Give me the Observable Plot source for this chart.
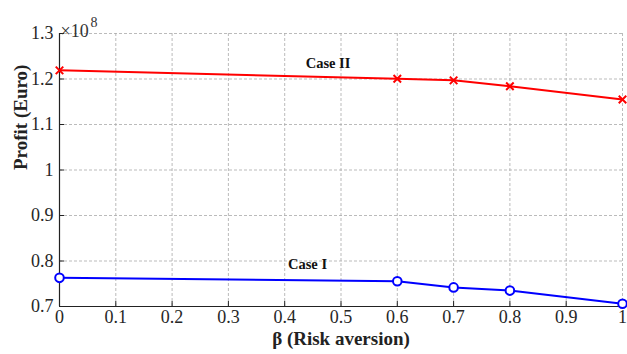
<!DOCTYPE html>
<html>
<head>
<meta charset="utf-8">
<script src="https://cdn.jsdelivr.net/npm/d3@7"></script>
<script src="https://cdn.jsdelivr.net/npm/@observablehq/plot@0.6"></script>
<style>
  html, body { margin: 0; padding: 0; background: #fff; }
  #chart svg { display: block; }
</style>
</head>
<body>
<div id="chart"></div>
<script>
const beta = [0, 0.6, 0.7, 0.8, 1.0];
const caseII = [1.219, 1.2005, 1.197, 1.184, 1.155];
const caseI = [0.763, 0.7555, 0.742, 0.735, 0.706];
const xTicks = [0, 0.1, 0.2, 0.3, 0.4, 0.5, 0.6, 0.7, 0.8, 0.9, 1];
const yTicks = [0.7, 0.8, 0.9, 1.0, 1.1, 1.2, 1.3];
const labels = [
  {x: 0.477, y: 1.235, text: "Case II"},
  {x: 0.4405, y: 0.7925, text: "Case I"}
];

const red = beta.map((b, i) => ({x: b, y: caseII[i]}));
const blue = beta.map((b, i) => ({x: b, y: caseI[i]}));

const font = "Liberation Serif";
const fmt = d => String(+d.toFixed(1));

const chart = Plot.plot({
  width: 627,
  height: 354,
  marginLeft: 59,
  marginRight: 5,
  marginTop: 33,
  marginBottom: 48,
  style: {fontFamily: font, fontSize: "17px", color: "#222", background: "#fff"},
  x: {domain: [0, 1]},
  y: {domain: [0.7, 1.3]},
  marks: [
    Plot.gridX(xTicks, {stroke: "#aaa", strokeOpacity: 1, strokeDasharray: "3,2", strokeWidth: 0.8}),
    Plot.gridY(yTicks, {stroke: "#aaa", strokeOpacity: 1, strokeDasharray: "3,2", strokeWidth: 0.8}),
    Plot.axisX(xTicks, {tickSize: -5, tickFormat: () => "", label: null, stroke: "#222"}),
    Plot.axisY(yTicks, {tickSize: -5, tickFormat: () => "", label: null, stroke: "#222"}),
    Plot.text(xTicks, {x: d => d, frameAnchor: "bottom", dy: 16, text: fmt, fontSize: 18, fontFamily: font, fill: "#262626"}),
    Plot.text(yTicks, {y: d => d, frameAnchor: "left", textAnchor: "end", dx: -6, text: fmt, fontSize: 18, fontFamily: font, fill: "#262626"}),
    Plot.ruleX([0], {stroke: "#222", strokeWidth: 1.2}),
    Plot.ruleY([0.7], {stroke: "#222", strokeWidth: 1.2}),
    Plot.line(red, {x: "x", y: "y", stroke: "#ff0000", strokeWidth: 2}),
    Plot.dot(red, {x: "x", y: "y", symbol: "times", stroke: "#ff0000", strokeWidth: 2, r: 3.5}),
    Plot.line(blue, {x: "x", y: "y", stroke: "#0000ff", strokeWidth: 2}),
    Plot.dot(blue, {x: "x", y: "y", symbol: "circle", stroke: "#0000ff", fill: "white", strokeWidth: 2, r: 4.3}),
    Plot.text(labels, {x: "x", y: "y", text: "text", fontWeight: "bold", fontSize: 14.5, fill: "#111", fontFamily: font}),
    Plot.text(["×10"], {frameAnchor: "top-left", dx: 1, dy: -9, textAnchor: "start", fontSize: 18, fill: "#333", fontFamily: font}),
    Plot.text(["8"], {frameAnchor: "top-left", dx: 31, dy: -16, textAnchor: "start", fontSize: 14, fill: "#333", fontFamily: font}),
    Plot.text(["β (Risk aversion)"], {frameAnchor: "bottom", dy: 38, fontWeight: "bold", fontSize: 19, fill: "#222", fontFamily: font}),
    Plot.text(["Profit (Euro)"], {frameAnchor: "left", dx: -39, rotate: -90, fontWeight: "bold", fontSize: 19, fill: "#222", fontFamily: font})
  ]
});
document.getElementById("chart").appendChild(chart);
</script>
</body>
</html>
